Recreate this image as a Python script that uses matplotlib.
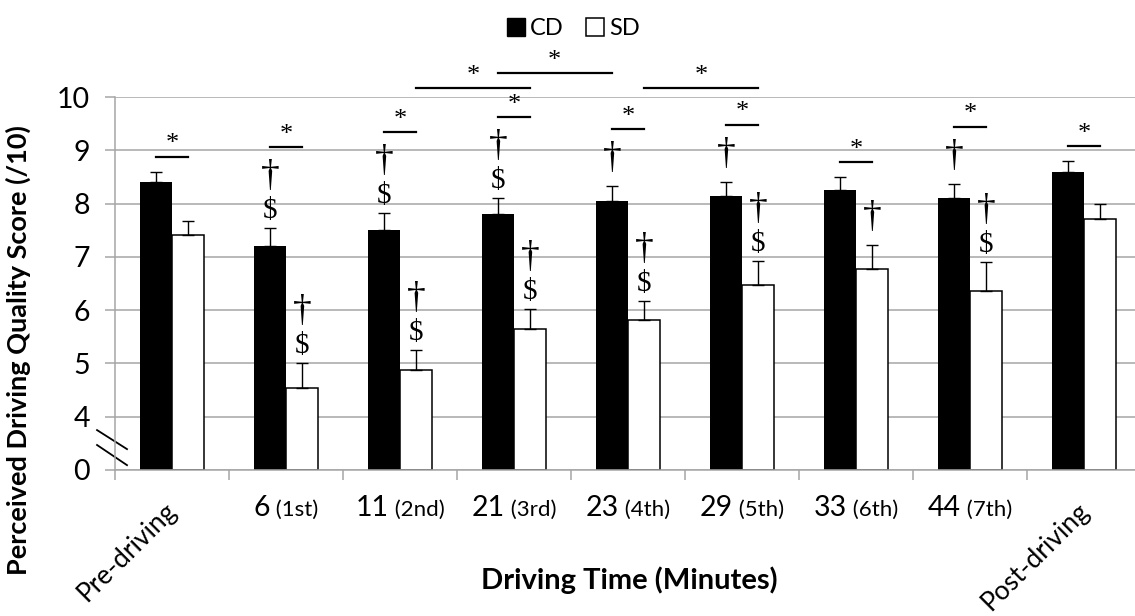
import matplotlib
matplotlib.use('Agg')
import matplotlib.pyplot as plt
import numpy as np
from matplotlib.lines import Line2D
from matplotlib.offsetbox import TextArea, HPacker, AnnotationBbox

# values
categories = ['Pre-driving', '6', '11', '21', '23', '29', '33', '44', 'Post-driving']
ordinals = ['', '(1st)', '(2nd)', '(3rd)', '(4th)', '(5th)', '(6th)', '(7th)', '']
cd_mean = [8.40, 7.20, 7.51, 7.81, 8.05, 8.15, 8.25, 8.10, 8.60]
cd_err = [0.20, 0.34, 0.31, 0.29, 0.28, 0.26, 0.24, 0.27, 0.19]
sd_mean = [7.41, 4.53, 4.88, 5.64, 5.82, 6.48, 6.77, 6.36, 7.71]
sd_err = [0.27, 0.48, 0.38, 0.39, 0.36, 0.45, 0.46, 0.55, 0.28]
cd_marks = ['', '†$', '†$', '†$', '†', '†', '', '†', '']
sd_marks = ['', '†$', '†$', '†$', '†$', '†$', '†', '†$', '']
# between-time comparisons: (category a, series a, category b, series b, tier)
long_sig = [(2, 'SD', 3, 'SD', 0), (3, 'CD', 4, 'CD', 1), (4, 'SD', 5, 'SD', 0)]
yticks = [0, 4, 5, 6, 7, 8, 9, 10]

sans = 'Lato'
serif = 'Liberation Serif'
grey = '#a6a6a6'
W, H = 1135, 616


def fwd(v):
  v = np.asarray(v, dtype=float)
  return np.where(v >= 4, v - 3, v / 4)


def inv(d):
  d = np.asarray(d, dtype=float)
  return np.where(d >= 1, d + 3, d * 4)


fig = plt.figure(figsize=(W / 100, H / 100), dpi=100)
ax = fig.add_axes([115 / W, (H - 470) / H, 1026 / W, 373 / H])
ax.set_yscale('function', functions=(fwd, inv))
ax.set_ylim(0, 10)
ax.set_xlim(-0.5, len(categories) - 0.5)

x = np.arange(len(categories))
w = 0.285
x_cd = x - w / 2
x_sd = x + w / 2

ax.bar(x_cd, cd_mean, w, color='black', edgecolor='black', linewidth=0, zorder=2)
ax.bar(x_sd, sd_mean, w, color='white', edgecolor='black', linewidth=1.1, zorder=2)
ax.errorbar(x_cd, cd_mean, yerr=[np.zeros(len(x)), cd_err], fmt='none', ecolor='black',
            elinewidth=1, capsize=4.3, capthick=1, zorder=3)
ax.errorbar(x_sd, sd_mean, yerr=[np.zeros(len(x)), sd_err], fmt='none', ecolor='black',
            elinewidth=1, capsize=4.3, capthick=1, zorder=3)

ax.set_axisbelow(True)
ax.yaxis.grid(True, color=grey, linewidth=1.1)
ax.set_yticks(yticks)
ax.set_yticklabels([str(t) for t in yticks], fontsize=20.5, family=sans)
ax.set_xticks(np.arange(len(categories) + 1) - 0.5)
ax.set_xticklabels([])
ax.tick_params(axis='y', length=7, width=1.1, color=grey, pad=11)
ax.tick_params(axis='x', length=7, width=1.1, color=grey)
for s in ['top', 'right']:
  ax.spines[s].set_visible(False)
for s in ['left', 'bottom']:
  ax.spines[s].set_color(grey)
  ax.spines[s].set_linewidth(1.1)

# axis break marks between 0 and 4
for y0, y1 in [(0.107, 0.056), (0.067, 0.013)]:
  ax.plot([-0.0175, 0.0117], [y0, y1], transform=ax.transAxes, color='black',
          linewidth=1.3, clip_on=False)

# category labels
for i, (c, o) in enumerate(zip(categories, ordinals)):
  if o:
    box = HPacker(children=[TextArea(c, textprops=dict(fontsize=20.5, family=sans)),
                            TextArea(' ' + o, textprops=dict(fontsize=16, family=sans))],
                  align='baseline', pad=0, sep=0)
    ab = AnnotationBbox(box, (i, 0), xycoords=('data', 'axes fraction'),
                        xybox=(0, -18), boxcoords='offset points',
                        box_alignment=(0.5, 1), frameon=False, pad=0)
    ax.add_artist(ab)
  else:
    ax.annotate(c, (i, 0), xycoords=('data', 'axes fraction'), xytext=(7, -20),
                textcoords='offset points', rotation=45, ha='right', va='top',
                fontsize=19, family=sans)

fig.text(18 / W, 1 - 350 / H, 'Perceived Driving Quality Score (/10)', rotation=90,
         ha='center', va='center', fontsize=19.5, fontweight='bold', family=sans)
fig.text(629 / W, 1 - 580 / H, 'Driving Time (Minutes)', ha='center', va='center',
         fontsize=21, fontweight='bold', family=sans)

handles = [Line2D([], [], marker='s', linestyle='none', markersize=13,
                  markerfacecolor='black', markeredgecolor='black'),
           Line2D([], [], marker='s', linestyle='none', markersize=13,
                  markerfacecolor='white', markeredgecolor='black', markeredgewidth=1.1)]
fig.legend(handles, ['CD', 'SD'], loc='upper center', bbox_to_anchor=(573 / W, 1.005),
           ncol=2, frameon=False, prop=dict(family=sans, size=17),
           handletextpad=0.2, columnspacing=0.9, handlelength=0.8)

# significance symbols, stacked above the error bar caps (pixel offsets)
px = 72 / 100
to_pix = ax.transData.transform
to_data = ax.transData.inverted().transform


def stack(xc, cap, marks):
  top = to_pix((xc, cap))[1]
  if '$' in marks:
    ax.annotate('$', (xc, cap), xytext=(0, 10 * px), textcoords='offset points',
                ha='center', va='baseline', fontsize=21, family=serif)
    ax.annotate('†', (xc, cap), xytext=(0, 42 * px), textcoords='offset points',
                ha='center', va='baseline', fontsize=27, family=serif)
    top += 66
  elif '†' in marks:
    ax.annotate('†', (xc, cap), xytext=(0, 18 * px), textcoords='offset points',
                ha='center', va='baseline', fontsize=27, family=serif)
    top += 42
  return top


def sig_line(xa, xb, ypix):
  yv = to_data((xa, ypix))[1]
  ax.plot([xa, xb], [yv, yv], color='black', linewidth=1.6, clip_on=False)
  ax.annotate('*', ((xa + xb) / 2, yv), xytext=(0, 1), textcoords='offset points',
              ha='center', va='bottom', fontsize=19, family=serif, annotation_clip=False)


for i in range(len(categories)):
  t1 = stack(x_cd[i], cd_mean[i] + cd_err[i], cd_marks[i])
  t2 = stack(x_sd[i], sd_mean[i] + sd_err[i], sd_marks[i])
  sig_line(x[i] - w / 2, x[i] + w / 2, max(t1, t2) + 15)

xpos = {'CD': x_cd, 'SD': x_sd}
top_axes = to_pix((0, 10))[1]
for a, sa, b, sb, tier in long_sig:
  sig_line(xpos[sa][a], xpos[sb][b], top_axes + 9 + 15 * tier)

fig.savefig('out.png', dpi=100)
